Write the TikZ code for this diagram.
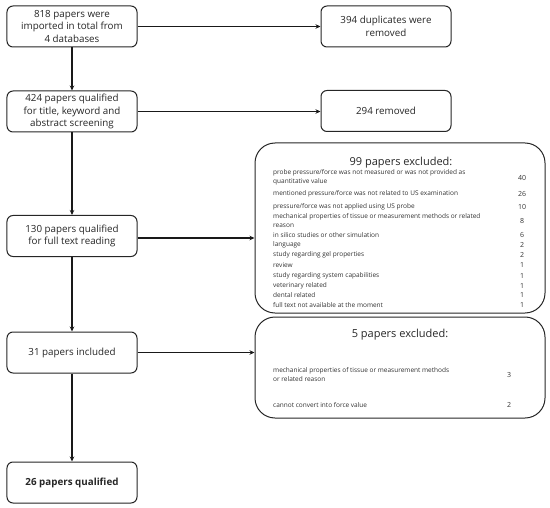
\documentclass[tikz,border=0pt]{standalone}
\usepackage{fontspec}
\setmainfont{Open Sans}
\usetikzlibrary{arrows.meta}
\begin{document}
\begin{tikzpicture}[x=1bp,y=-1bp,
  flowbox/.style={draw=black!85,line width=1bp,rounded corners=6bp,fill=white,
    minimum width=130bp,minimum height=41bp,inner sep=1bp,align=center,
    font=\fontsize{9.8bp}{12.8bp}\selectfont,text=black!85},
  exbox/.style={draw=black!85,line width=1bp,rounded corners=20bp,inner sep=0pt},
  extitle/.style={font=\fontsize{11bp}{13bp}\selectfont,text=black!85},
  item/.style={anchor=west,font=\fontsize{6.5bp}{9bp}\selectfont,text=black!80,align=left,inner sep=0pt},
  num/.style={font=\fontsize{7bp}{8bp}\selectfont,text=black!80,inner sep=0pt},
  arr/.style={-{Stealth[length=5bp,width=4.5bp]},line width=1.1bp,black!90}]
\useasboundingbox (0,0) rectangle (550,508);
% left column
\node[flowbox] (b1) at (72,26.5) {818 papers were\\imported in total from\\4 databases};
\node[flowbox] (b2) at (72,111.5) {424 papers qualified\\for title, keyword and\\abstract screening};
\node[flowbox] (b3) at (72,236) {130 papers qualified\\for full text reading};
\node[flowbox] (b4) at (72,352.5) {31 papers included};
\node[flowbox] (b5) at (72,482.5) {\textbf{26 papers qualified}};
% right boxes
\node[flowbox] (r1) at (386,26.5) {394 duplicates were\\removed};
\node[flowbox] (r2) at (386,111) {294 removed};
% exclusion boxes
\node[exbox,minimum width=290bp,minimum height=170bp] (ex1) at (400,228) {};
\node[exbox,minimum width=290bp,minimum height=101bp] (ex2) at (400,367.5) {};
% arrows
\draw[arr] (b1) -- (b2);
\draw[arr] (b2) -- (b3);
\draw[arr] (b3) -- (b4);
\draw[arr] (b4) -- (b5);
\draw[arr] (b1) -- (r1);
\draw[arr] (b2.east) -- (b2.east -| r2.west);
\draw[arr] ([yshift=-2bp]b3.east) -- ([yshift=-2bp]b3.east -| ex1.west);
\draw[arr] (b4.east) -- (b4.east -| ex2.west);
% 99 excluded list
\node[extitle] (t1) at (401,163) {99 papers excluded:};
\node[item] (i1) at (273,177.5) {probe pressure/force was not measured or was not provided as\\quantitative value};
\node[num] (n1) at (522,178) {40};
\node[item] (i2) at (273,194) {mentioned pressure/force was not related to US examination};
\node[num] (n2) at (522,194) {26};
\node[item] (i3) at (273,207) {pressure/force was not applied using US probe};
\node[num] (n3) at (522,207) {10};
\node[item] (i4) at (273,220.5) {mechanical properties of tissue or measurement methods or related\\reason};
\node[num] (n4) at (522,221) {8};
\node[item] (i5) at (273,235) {in silico studies or other simulation};
\node[num] (n5) at (522,235) {6};
\node[item] (i6) at (273,245) {language};
\node[num] (n6) at (522,245) {2};
\node[item] (i7) at (273,255) {study regarding gel properties};
\node[num] (n7) at (522,255) {2};
\node[item] (i8) at (273,265.5) {review};
\node[num] (n8) at (522,265.5) {1};
\node[item] (i9) at (273,275.5) {study regarding system capabilities};
\node[num] (n9) at (522,275.5) {1};
\node[item] (i10) at (273,285.5) {veterinary related};
\node[num] (n10) at (522,285.5) {1};
\node[item] (i11) at (273,295) {dental related};
\node[num] (n11) at (522,295) {1};
\node[item] (i12) at (273,305) {full text not available at the moment};
\node[num] (n12) at (522,305) {1};
% 5 excluded list
\node[extitle] (t2) at (400,335) {5 papers excluded:};
\node[item] (j1) at (273,374.5) {mechanical properties of tissue or measurement methods\\or related reason};
\node[num] (m1) at (509,375) {3};
\node[item] (j2) at (273,405) {cannot convert into force value};
\node[num] (m2) at (509,405) {2};
\end{tikzpicture}
\end{document}
